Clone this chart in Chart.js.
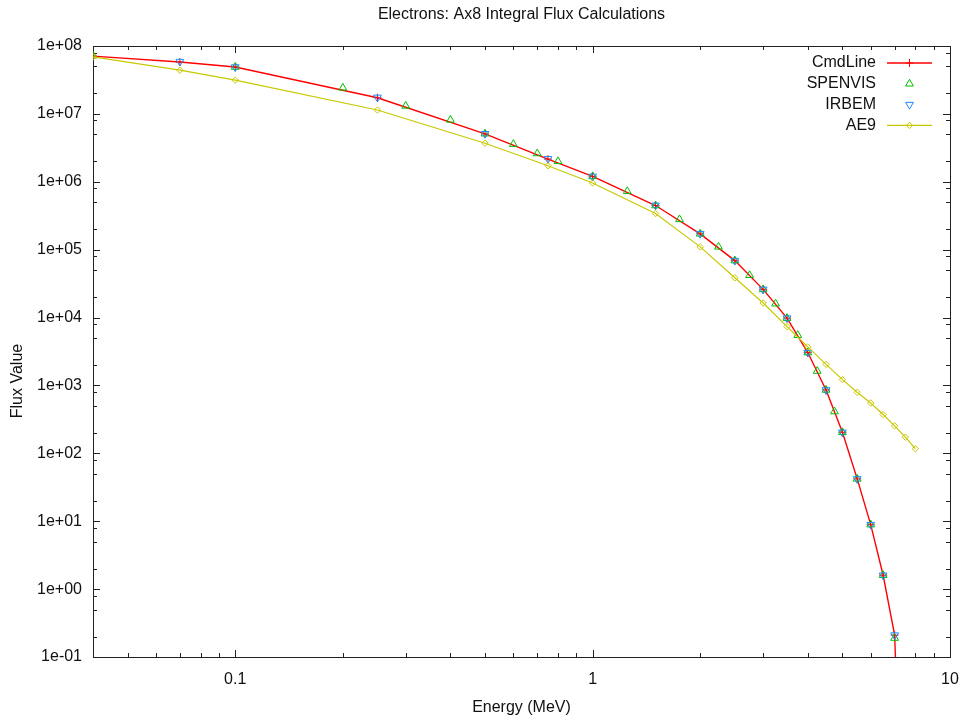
<!DOCTYPE html>
<html>
<head>
<meta charset="utf-8">
<title>Electrons: Ax8 Integral Flux Calculations</title>
<script src="https://cdn.jsdelivr.net/npm/chart.js@4/dist/chart.umd.min.js"></script>
<style>
  html, body { margin: 0; padding: 0; background: #fff; }
  #wrap { width: 961px; height: 721px; }
</style>
</head>
<body>
<div id="wrap"><canvas id="fluxChart" width="961" height="721"></canvas></div>
<script>
// energies (MeV) and integral flux
const cmdEnergy = [0.04, 0.07, 0.1, 0.25, 0.5, 0.75, 1, 1.5, 2, 2.5, 3, 3.5, 4, 4.5, 5, 5.5, 6, 6.5, 7, 7.5];
const cmdFlux = [7.1e7, 5.8e7, 4.9e7, 1.73e7, 5.07e6, 2.16e6, 1.2e6, 4.47e5, 1.71e5, 6.9e4, 2.6e4, 9.8e3, 3.05e3, 857, 204, 42, 8.9, 1.6, 0.21, 1e-5];

const spenEnergy = [0.04, 0.1, 0.2, 0.3, 0.4, 0.5, 0.6, 0.7, 0.8, 1, 1.25, 1.5, 1.75, 2, 2.25, 2.5, 2.75, 3, 3.25, 3.5, 3.75, 4, 4.25, 4.5, 4.75, 5, 5.5, 6, 6.5, 7];
const spenFlux = [7.2e7, 4.9e7, 2.42e7, 1.31e7, 8.15e6, 5.1e6, 3.58e6, 2.61e6, 2.0e6, 1.2e6, 7.24e5, 4.47e5, 2.79e5, 1.71e5, 1.1e5, 6.9e4, 4.2e4, 2.6e4, 1.6e4, 9.8e3, 5.5e3, 3.05e3, 1.63e3, 857, 413, 204, 42, 8.9, 1.6, 0.19];

const irbemEnergy = [0.07, 0.1, 0.25, 0.5, 0.75, 1, 1.5, 2, 2.5, 3, 3.5, 4, 4.5, 5, 5.5, 6, 6.5, 7];
const irbemFlux = [5.9e7, 4.9e7, 1.75e7, 5.1e6, 2.18e6, 1.2e6, 4.5e5, 1.72e5, 6.9e4, 2.6e4, 9.8e3, 3.05e3, 857, 204, 42, 8.9, 1.6, 0.21];

const ae9Energy = [0.04, 0.07, 0.1, 0.25, 0.5, 0.75, 1, 1.5, 2, 2.5, 3, 3.5, 4, 4.5, 5, 5.5, 6, 6.5, 7, 7.5, 8];
const ae9Flux = [6.9e7, 4.4e7, 3.14e7, 1.14e7, 3.7e6, 1.72e6, 9.6e5, 3.41e5, 1.1e5, 3.85e4, 1.64e4, 7.35e3, 3.7e3, 2.04e3, 1.22e3, 792, 552, 373, 254, 173, 117];

const xMajorTicks = [0.1, 1, 10];
const yMajorTicks = [1e-1, 1, 1e1, 1e2, 1e3, 1e4, 1e5, 1e6, 1e7, 1e8];

const toPoints = (xs, ys) => xs.map((x, i) => ({ x: x, y: ys[i] }));

const RED = '#ff0000';
const GREEN = '#00c000';
const BLUE = '#1a8cff';
const YELLOW = '#c8c800';
const FONT = "16px 'Liberation Sans', Arial, sans-serif";

Chart.defaults.font.family = "'Liberation Sans', Arial, sans-serif";
Chart.defaults.font.size = 16;
Chart.defaults.color = '#111';

// gnuplot style frame with inward ticks on all four sides
const framePlugin = {
  id: 'frame',
  beforeDatasetsDraw(chart) {
    const { ctx, chartArea: a, scales } = chart;
    const xs = scales.x, ys = scales.y;
    ctx.save();
    ctx.strokeStyle = '#222';
    ctx.lineWidth = 1;
    ctx.beginPath();
    const tick = (x1, y1, x2, y2) => { ctx.moveTo(x1, y1); ctx.lineTo(x2, y2); };
    // x ticks
    [0.01, 0.1, 1].forEach(d => {
      for (let m = 1; m <= 9; m++) {
        const v = m * d;
        if (v < 0.04 || v > 10) continue;
        const len = m === 1 ? 7 : 4;
        const px = Math.round(xs.getPixelForValue(v)) + 0.5;
        tick(px, a.bottom, px, a.bottom - len);
        tick(px, a.top, px, a.top + len);
      }
    });
    // y ticks
    yMajorTicks.forEach(d => {
      [1, 2, 5, 8].forEach(m => {
        const v = m * d;
        if (v > 1e8) return;
        const len = m === 1 ? 7 : 4;
        const py = Math.round(ys.getPixelForValue(v)) + 0.5;
        tick(a.left, py, a.left + len, py);
        tick(a.right, py, a.right - len, py);
      });
    });
    ctx.stroke();
    ctx.strokeRect(Math.round(a.left) + 0.5, Math.round(a.top) + 0.5,
      Math.round(a.right - a.left), Math.round(a.bottom - a.top));

    // y axis label, sits a bit below the middle of the plot like the original
    ctx.fillStyle = '#111';
    ctx.font = FONT;
    ctx.textAlign = 'center';
    ctx.textBaseline = 'middle';
    ctx.translate(18, 381);
    ctx.rotate(-Math.PI / 2);
    ctx.fillText('Flux Value', 0, 0);
    ctx.restore();
  }
};

// key in the top right corner: label, then line sample with marker
const keyPlugin = {
  id: 'key',
  afterDatasetsDraw(chart) {
    const { ctx } = chart;
    const rows = chart.data.datasets;
    ctx.save();
    ctx.font = FONT;
    ctx.textAlign = 'right';
    ctx.textBaseline = 'middle';
    rows.forEach((ds, i) => {
      const y = 63 + i * 20.8;
      ctx.fillStyle = '#111';
      ctx.fillText(ds.label, 876, y);
      if (ds.showLine) {
        ctx.strokeStyle = ds.borderColor;
        ctx.lineWidth = ds.borderWidth;
        ctx.beginPath();
        ctx.moveTo(887, y);
        ctx.lineTo(932, y);
        ctx.stroke();
      }
      ctx.strokeStyle = ds.pointBorderColor;
      ctx.fillStyle = 'rgba(0,0,0,0)';
      ctx.lineWidth = 1;
      Chart.helpers.drawPoint(ctx, {
        pointStyle: ds.pointStyle,
        rotation: ds.pointRotation || 0,
        radius: ds.pointRadius,
        borderWidth: 1
      }, 909.5, y);
    });
    ctx.restore();
  }
};

new Chart(document.getElementById('fluxChart'), {
  type: 'scatter',
  data: {
    datasets: [
      {
        label: 'CmdLine',
        data: toPoints(cmdEnergy, cmdFlux),
        showLine: true,
        borderColor: RED,
        borderWidth: 1.4,
        pointStyle: 'cross',
        pointRadius: 4,
        pointBorderColor: RED,
        pointBorderWidth: 1,
        order: 4
      },
      {
        label: 'SPENVIS',
        data: toPoints(spenEnergy, spenFlux),
        showLine: false,
        pointStyle: 'triangle',
        pointRadius: 4.5,
        pointBorderColor: GREEN,
        pointBackgroundColor: 'rgba(0,0,0,0)',
        pointBorderWidth: 1,
        order: 3
      },
      {
        label: 'IRBEM',
        data: toPoints(irbemEnergy, irbemFlux),
        showLine: false,
        pointStyle: 'triangle',
        pointRotation: 180,
        pointRadius: 4.5,
        pointBorderColor: BLUE,
        pointBackgroundColor: 'rgba(0,0,0,0)',
        pointBorderWidth: 1,
        order: 2
      },
      {
        label: 'AE9',
        data: toPoints(ae9Energy, ae9Flux),
        showLine: true,
        borderColor: YELLOW,
        borderWidth: 1.2,
        pointStyle: 'rectRot',
        pointRadius: 3.2,
        pointBorderColor: YELLOW,
        pointBackgroundColor: 'rgba(0,0,0,0)',
        pointBorderWidth: 1,
        order: 1
      }
    ]
  },
  options: {
    responsive: false,
    animation: false,
    layout: { padding: { left: 0, right: 0, top: 0, bottom: 0 } },
    plugins: {
      legend: { display: false },
      tooltip: { enabled: false },
      title: {
        display: true,
        text: 'Electrons: Ax8 Integral Flux Calculations',
        fullSize: false,
        color: '#111',
        font: { size: 16, weight: 'normal' },
        padding: { top: 5, bottom: 21.8 }
      }
    },
    scales: {
      x: {
        type: 'logarithmic',
        min: 0.04,
        max: 10,
        grid: { display: false, drawTicks: false },
        border: { display: false },
        afterBuildTicks: s => { s.ticks = xMajorTicks.map(v => ({ value: v })); },
        afterFit: s => {
          s.height = 64;
          s.paddingLeft = 0;
          s.paddingRight = 11;
        },
        ticks: {
          autoSkip: false,
          maxRotation: 0,
          padding: 13,
          callback: v => String(v)
        },
        title: {
          display: true,
          text: 'Energy (MeV)',
          font: { size: 16 },
          padding: { top: 0, bottom: 4 }
        }
      },
      y: {
        type: 'logarithmic',
        min: 0.1,
        max: 1e8,
        grid: { display: false, drawTicks: false },
        border: { display: false },
        afterBuildTicks: s => { s.ticks = yMajorTicks.map(v => ({ value: v })); },
        afterFit: s => { s.width = 93; },
        ticks: {
          autoSkip: false,
          padding: 11,
          callback: v => {
            const e = Math.round(Math.log10(v));
            const sign = e < 0 ? '-' : '+';
            return '1e' + sign + String(Math.abs(e)).padStart(2, '0');
          }
        }
      }
    }
  },
  plugins: [framePlugin, keyPlugin]
});
</script>
</body>
</html>
